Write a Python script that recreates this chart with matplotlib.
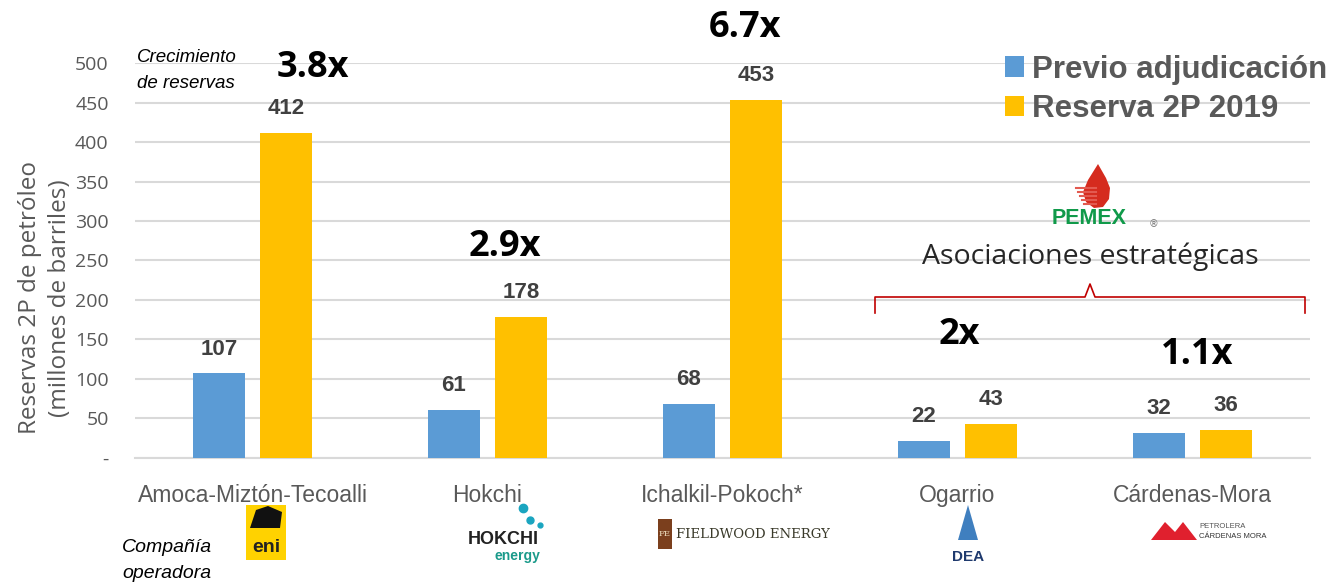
import numpy as np
import matplotlib.pyplot as plt
from matplotlib.lines import Line2D
from matplotlib.patches import Polygon, Rectangle

campos = ['Amoca-Miztón-Tecoalli', 'Hokchi', 'Ichalkil-Pokoch*', 'Ogarrio', 'Cárdenas-Mora']
previo = [107, 61, 68, 22, 32]
reserva_2019 = [412, 178, 453, 43, 36]
crecimiento = ['3.8x', '2.9x', '6.7x', '2x', '1.1x']
yticks = [0, 50, 100, 150, 200, 250, 300, 350, 400, 450, 500]
ytick_labels = ['-', '50', '100', '150', '200', '250', '300', '350', '400', '450', '500']

AZUL = '#5B9BD5'
AMARILLO = '#FFC000'
GRIS = '#595959'
GRID = '#D9D9D9'


def fx(px):
    return px / 1333


def fy(py):
    return 1 - py / 584


fig = plt.figure(figsize=(13.33, 5.84), dpi=100)
ax = fig.add_axes([0.1013, 0.2158, 0.8814, 0.6763])

x = np.arange(len(campos))
w = 0.221
off = 0.1426
b1 = ax.bar(x - off, previo, w, color=AZUL, label='Previo adjudicación', zorder=3)
b2 = ax.bar(x + off, reserva_2019, w, color=AMARILLO, label='Reserva 2P 2019', zorder=3)

# etiquetas de datos
for bars, vals in [(b1, previo), (b2, reserva_2019)]:
    for r, v in zip(bars, vals):
        ax.annotate(str(v), (r.get_x() + r.get_width() / 2, v), xytext=(0, 10),
                    textcoords='offset points', ha='center', va='bottom',
                    fontsize=16, fontweight='bold', color='#404040',
                    family='Liberation Sans', zorder=4)

# crecimiento de reservas (posiciones a mano)
pos_crec = [(0.257, 494), (1.074, 267), (2.096, 544), (3.01, 156), (4.02, 130)]
for (px, py), t in zip(pos_crec, crecimiento):
    ax.text(px, py, t, ha='center', va='center', fontsize=26, fontweight='bold',
            color='black', family='Open Sans', clip_on=False, zorder=5)

ax.set_xlim(-0.5, len(campos) - 0.5)
ax.set_ylim(0, 500)
ax.set_yticks(yticks)
ax.set_yticklabels(ytick_labels, family='Open Sans', fontsize=14, color=GRIS)
ax.set_xticks(x)
ax.set_xticklabels(campos, family='Liberation Sans', fontsize=16.5, color=GRIS)
ax.tick_params(axis='y', length=0, pad=19)
ax.tick_params(axis='x', length=0, pad=19)
ax.grid(axis='y', color=GRID, linewidth=1.5, zorder=0)
for s in ['top', 'right', 'left']:
    ax.spines[s].set_visible(False)
ax.spines['bottom'].set_color(GRID)
ax.spines['bottom'].set_linewidth(1.5)

fig.text(0.034, 0.49, 'Reservas 2P de petróleo\n(millones de barriles)', rotation=90,
         ha='center', va='center', multialignment='center', fontsize=17.5,
         color=GRIS, family='Open Sans', linespacing=1.35)

leg = ax.legend(loc='upper right', bbox_to_anchor=(1.005, 0.928), bbox_transform=fig.transFigure,
                frameon=False, handlelength=0.62, handleheight=0.62, handletextpad=0.25,
                labelspacing=0.3, borderaxespad=0,
                prop={'family': 'Liberation Sans', 'weight': 'bold', 'size': 22.5})
for t in leg.get_texts():
    t.set_color(GRIS)

fig.text(fx(137), fy(58), 'Crecimiento', style='italic', fontsize=13.5, color='black',
         family='Liberation Sans', ha='left', va='center')
fig.text(fx(137), fy(83), 'de reservas', style='italic', fontsize=13.5, color='black',
         family='Liberation Sans', ha='left', va='center')
fig.text(fx(122), fy(548), 'Compañía', style='italic', fontsize=14, color='black',
         family='Liberation Sans', ha='left', va='center')
fig.text(fx(122), fy(573), 'operadora', style='italic', fontsize=14, color='black',
         family='Liberation Sans', ha='left', va='center')

# PEMEX y asociaciones estratégicas
fig.text(fx(1090), fy(257), 'Asociaciones estratégicas', ha='center', va='center',
         fontsize=20.5, color='#262626', family='Open Sans')
fig.text(fx(1089), fy(219), 'PEMEX', ha='center', va='center', fontsize=15.5,
         fontweight='bold', color='#109A4A', family='Liberation Sans')
fig.text(fx(1154), fy(224), '®', ha='center', va='center', fontsize=7, color='#777777')
gota_px = [(1098, 164), (1088, 180), (1083, 192), (1086, 202), (1094, 208), (1103, 207),
           (1109, 199), (1110, 188), (1106, 178)]
fig.patches.append(Polygon([(fx(a), fy(b)) for a, b in gota_px], closed=True,
                           facecolor='#D52B1E', edgecolor='none', transform=fig.transFigure))
for k in range(5):
    yy = 188 + k * 4
    fig.add_artist(Line2D([fx(1076 + k * 2), fx(1096)], [fy(yy), fy(yy)], color='#E35A50',
                          linewidth=1.5))

# llave roja
llave_x = [875, 875, 1085, 1090, 1095, 1305, 1305]
llave_y = [313, 297, 297, 284, 297, 297, 313]
fig.add_artist(Line2D([fx(v) for v in llave_x], [fy(v) for v in llave_y],
                      color='#C00000', linewidth=1.2))

# logos (aproximados con texto)
fig.patches.append(Rectangle((fx(246), fy(560)), 40 / 1333, 55 / 584, facecolor='#FFD200',
                             edgecolor='none', transform=fig.transFigure))
fig.text(fx(266), fy(548), 'eni', ha='center', va='center', fontsize=14, fontweight='bold',
         color='#222222', family='Liberation Sans')
fig.patches.append(Polygon([(fx(250), fy(528)), (fx(256), fy(510)), (fx(268), fy(506)),
                            (fx(282), fy(512)), (fx(280), fy(528))], closed=True,
                           facecolor='#111111', edgecolor='none', transform=fig.transFigure))
fig.text(fx(503), fy(540), 'HOKCHI', ha='center', va='center', fontsize=13, fontweight='bold',
         color='#222222', family='Liberation Sans')
fig.text(fx(517), fy(556), 'energy', ha='center', va='center', fontsize=10, fontweight='bold',
         color='#1A9A8A', family='Liberation Sans')
for (dx, dy, ds) in [(523, 508, 6), (530, 520, 5), (540, 525, 3.5)]:
    fig.add_artist(Line2D([fx(dx)], [fy(dy)], marker='o', markersize=ds, color='#1AA5C0',
                          linestyle='none'))
fig.patches.append(Rectangle((fx(658), fy(549)), 14 / 1333, 30 / 584, facecolor='#7B3F1D',
                             edgecolor='none', transform=fig.transFigure))
fig.text(fx(665), fy(534), 'FE', ha='center', va='center', fontsize=6, color='#F0E0C0',
         family='DejaVu Serif')
fig.text(fx(676), fy(535), 'FIELDWOOD ENERGY', ha='left', va='center', fontsize=9.5,
         color='#3A3A2A', family='DejaVu Serif')
fig.patches.append(Polygon([(fx(968), fy(505)), (fx(958), fy(540)), (fx(978), fy(540))],
                           closed=True, facecolor='#3F7FBF', edgecolor='none',
                           transform=fig.transFigure))
fig.text(fx(968), fy(557), 'DEA', ha='center', va='center', fontsize=11, fontweight='bold',
         color='#1F3A6E', family='Liberation Sans')
fig.patches.append(Polygon([(fx(1151), fy(540)), (fx(1165), fy(522)), (fx(1175), fy(532)),
                            (fx(1183), fy(522)), (fx(1197), fy(540))], closed=True,
                           facecolor='#E0202E', edgecolor='none', transform=fig.transFigure))
fig.text(fx(1199), fy(527), 'PETROLERA', ha='left', va='center', fontsize=5.5,
         color='#555555', family='Liberation Sans')
fig.text(fx(1199), fy(536), 'CÁRDENAS MORA', ha='left', va='center', fontsize=5.5,
         color='#333333', family='Liberation Sans')

fig.savefig('out.png', dpi=100)
